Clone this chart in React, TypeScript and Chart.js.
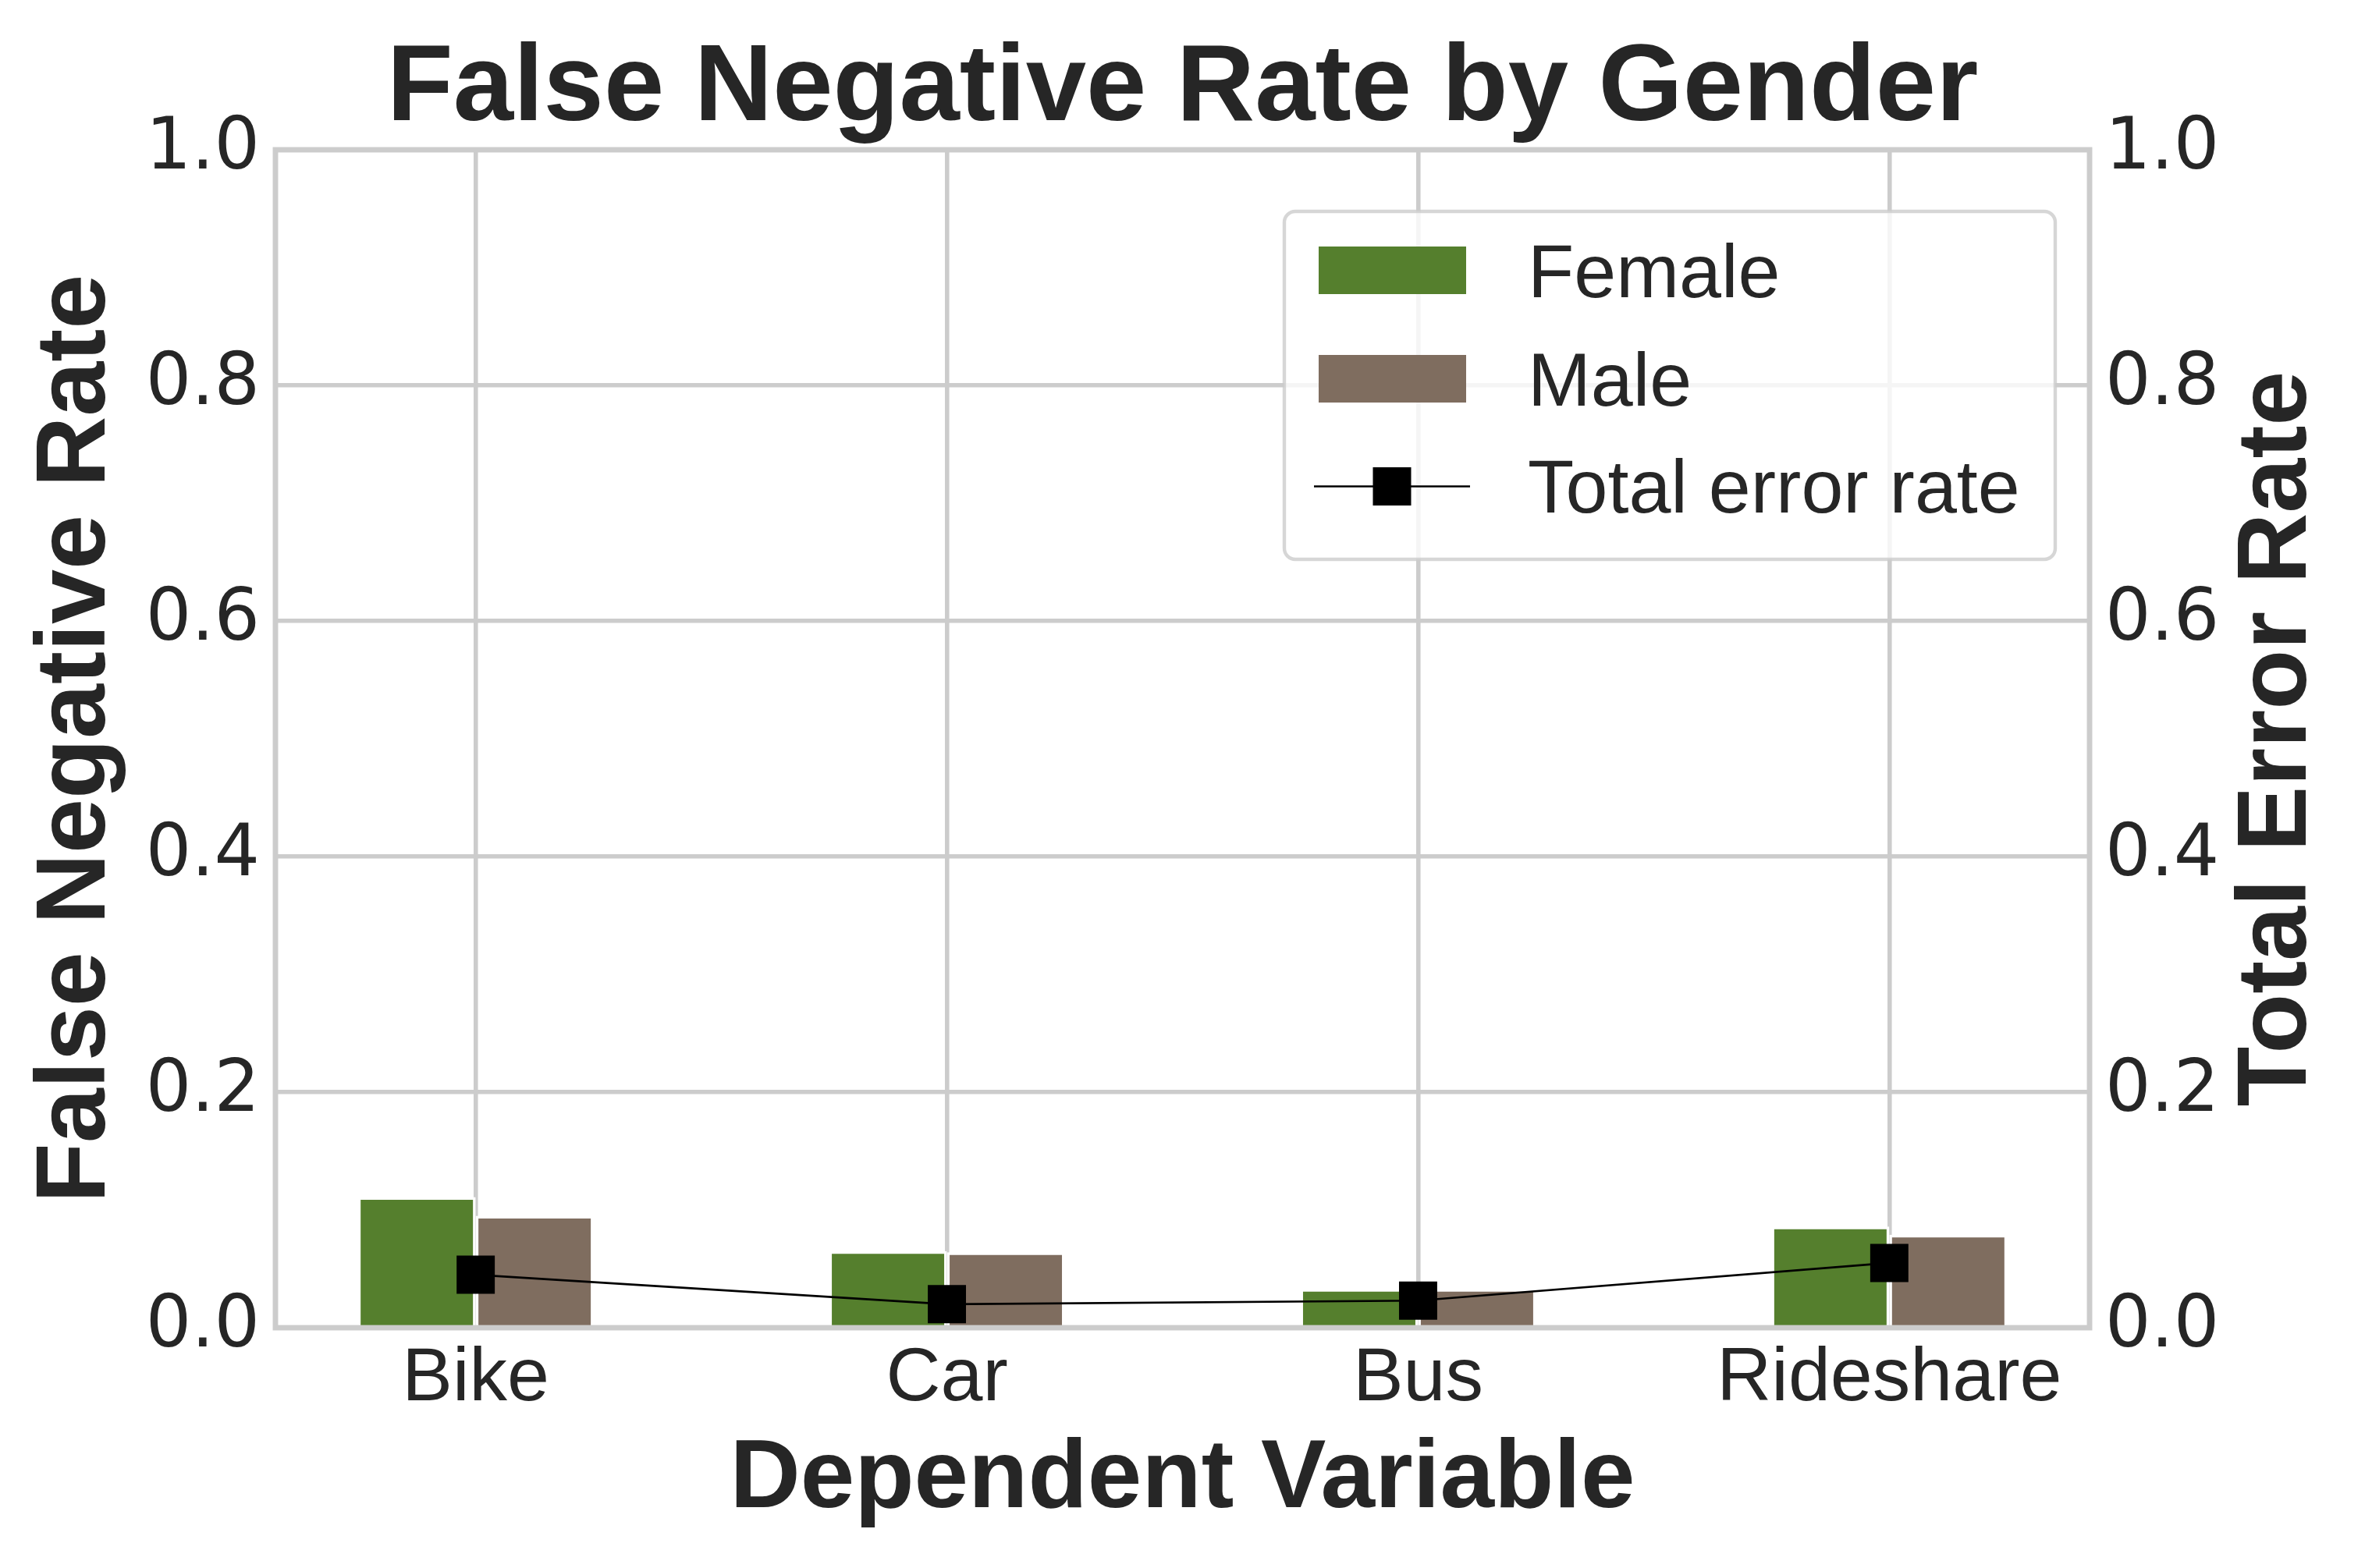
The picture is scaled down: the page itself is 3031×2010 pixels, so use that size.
import React, { useEffect, useRef } from "react";
import { Chart, registerables } from "chart.js";

Chart.register(...registerables);

// ---- Data ----
const categories = ["Bike", "Car", "Bus", "Rideshare"];
const femaleFNR = [0.111, 0.065, 0.033, 0.086];
const maleFNR = [0.095, 0.064, 0.033, 0.079];
const totalErrorRate = [0.045, 0.020, 0.023, 0.055];
const seriesLabels = ["Female", "Male", "Total error rate"];

const W = 3031;
const H = 2010;
const TEXT = "#262626";
const GRID = "#cccccc";
const FEMALE = "#557f2d";
const MALE = "#7f6d5f";
const LIB = "'Liberation Sans', Arial, sans-serif";
const DJV = "'DejaVu Sans', sans-serif";

const framePlugin = {
  id: "frame",
  afterDatasetsDraw(chart: any) {
    const { ctx, chartArea } = chart;
    const { left, top, right, bottom } = chartArea;
    ctx.save();
    ctx.strokeStyle = GRID;
    ctx.lineWidth = 6.9;
    ctx.strokeRect(left, top, right - left, bottom - top);
    ctx.restore();
  },
};

function roundRect(ctx: CanvasRenderingContext2D, x: number, y: number, w: number, h: number, r: number) {
  ctx.beginPath();
  ctx.moveTo(x + r, y);
  ctx.lineTo(x + w - r, y);
  ctx.arcTo(x + w, y, x + w, y + r, r);
  ctx.lineTo(x + w, y + h - r);
  ctx.arcTo(x + w, y + h, x + w - r, y + h, r);
  ctx.lineTo(x + r, y + h);
  ctx.arcTo(x, y + h, x, y + h - r, r);
  ctx.lineTo(x, y + r);
  ctx.arcTo(x, y, x + r, y, r);
  ctx.closePath();
}

const legendPlugin = {
  id: "customLegend",
  afterDraw(chart: any) {
    const { ctx } = chart;
    const ds = chart.data.datasets;
    ctx.save();
    roundRect(ctx, 1646, 271, 988, 446, 14);
    ctx.fillStyle = "rgba(255,255,255,0.8)";
    ctx.fill();
    ctx.strokeStyle = "rgba(204,204,204,0.8)";
    ctx.lineWidth = 4.4;
    ctx.stroke();
    ctx.fillStyle = ds[0].backgroundColor;
    ctx.fillRect(1690, 316, 189, 61);
    ctx.fillStyle = ds[1].backgroundColor;
    ctx.fillRect(1690, 455, 189, 61);
    ctx.strokeStyle = "#000000";
    ctx.lineWidth = 2.7;
    ctx.beginPath();
    ctx.moveTo(1684, 623.5);
    ctx.lineTo(1884, 623.5);
    ctx.stroke();
    ctx.fillStyle = "#000000";
    ctx.fillRect(1784 - 24.5, 599, 49, 49);
    ctx.fillStyle = TEXT;
    ctx.font = `97px ${LIB}`;
    ctx.textBaseline = "alphabetic";
    ctx.textAlign = "left";
    ctx.fillText(ds[0].label, 1958, 381);
    ctx.fillText(ds[1].label, 1958, 520);
    ctx.fillText(ds[2].label, 1958, 657);
    ctx.restore();
  },
};

const rightTitlePlugin = {
  id: "rightTitle",
  afterDraw(chart: any) {
    const { ctx, chartArea } = chart;
    ctx.save();
    ctx.translate(2955, (chartArea.top + chartArea.bottom) / 2);
    ctx.rotate(-Math.PI / 2);
    ctx.fillStyle = TEXT;
    ctx.font = `bold 126px ${LIB}`;
    ctx.textAlign = "center";
    ctx.textBaseline = "alphabetic";
    ctx.fillText("Total Error Rate", 0, 0);
    ctx.restore();
  },
};

export default function App() {
  const canvasRef = useRef<HTMLCanvasElement | null>(null);

  useEffect(() => {
    const canvas = canvasRef.current;
    if (!canvas) return;
    const chart = new Chart(canvas, {
      type: "bar",
      data: {
        datasets: [
          {
            type: "bar",
            label: seriesLabels[0],
            data: categories.map((_, i) => ({ x: i, y: femaleFNR[i] })),
            backgroundColor: FEMALE,
            borderColor: "#ffffff",
            borderWidth: 3.5,
            yAxisID: "y",
            order: 1,
          },
          {
            type: "bar",
            label: seriesLabels[1],
            data: categories.map((_, i) => ({ x: i, y: maleFNR[i] })),
            backgroundColor: MALE,
            borderColor: "#ffffff",
            borderWidth: 3.5,
            yAxisID: "y",
            order: 1,
          },
          {
            type: "line",
            label: seriesLabels[2],
            data: categories.map((_, i) => ({ x: i, y: totalErrorRate[i] })),
            borderColor: "#000000",
            borderWidth: 2.7,
            backgroundColor: "#000000",
            pointStyle: "rect",
            pointRadius: 34.6,
            pointHoverRadius: 34.6,
            pointBackgroundColor: "#000000",
            pointBorderWidth: 0,
            tension: 0,
            fill: false,
            yAxisID: "y1",
            order: 0,
          } as any,
        ],
      },
      options: {
        animation: false,
        responsive: false,
        devicePixelRatio: 1,
        layout: { padding: 0 },
        datasets: {
          bar: { categoryPercentage: 0.5, barPercentage: 1.0 },
        },
        plugins: {
          legend: { display: false },
          tooltip: { enabled: false },
          title: {
            display: true,
            text: "False Negative Rate by Gender",
            color: TEXT,
            font: { family: LIB, size: 139, weight: "bold", lineHeight: 1 },
            padding: { top: 46.3, bottom: 6.7 },
          },
        },
        scales: {
          x: {
            type: "linear",
            min: -0.425,
            max: 3.425,
            offset: false,
            afterBuildTicks: (s: any) => {
              s.ticks = categories.map((_, i) => ({ value: i }));
            },
            afterFit: (s: any) => {
              s.height = 308;
            },
            grid: { color: GRID, lineWidth: 5.56, drawTicks: false, offset: false },
            border: { display: false },
            ticks: {
              padding: 18,
              color: TEXT,
              autoSkip: false,
              maxRotation: 0,
              font: { family: LIB, size: 97, lineHeight: 1 },
              callback: (v: any) => categories[Math.round(Number(v))] ?? "",
            },
            title: {
              display: true,
              text: "Dependent Variable",
              color: TEXT,
              font: { family: LIB, size: 125, weight: "bold", lineHeight: 1 },
              padding: { top: 0, bottom: 50 },
            },
          },
          y: {
            type: "linear",
            position: "left",
            min: 0,
            max: 1,
            afterFit: (s: any) => {
              s.width = 353;
            },
            grid: { color: GRID, lineWidth: 5.56, drawTicks: false },
            border: { display: false },
            ticks: {
              stepSize: 0.2,
              padding: 20,
              color: TEXT,
              font: { family: DJV, size: 92, lineHeight: 1 },
              callback: (v: any) => Number(v).toFixed(1),
            },
            title: {
              display: true,
              text: "False Negative Rate",
              color: TEXT,
              font: { family: LIB, size: 126, weight: "bold", lineHeight: 1 },
              padding: { top: 36, bottom: 0 },
            },
          },
          y1: {
            type: "linear",
            position: "right",
            min: 0,
            max: 1,
            afterFit: (s: any) => {
              s.width = 353;
            },
            grid: { display: false, drawTicks: false },
            border: { display: false },
            ticks: {
              stepSize: 0.2,
              padding: 20,
              color: TEXT,
              font: { family: DJV, size: 92, lineHeight: 1 },
              callback: (v: any) => Number(v).toFixed(1),
            },
          },
        },
      } as any,
      plugins: [framePlugin, legendPlugin, rightTitlePlugin],
    });
    return () => chart.destroy();
  }, []);

  return (
    <div style={{ position: "absolute", left: 0, top: 0, width: W, height: H, background: "#ffffff" }}>
      <canvas ref={canvasRef} width={W} height={H} style={{ width: W, height: H, display: "block" }} />
    </div>
  );
}
